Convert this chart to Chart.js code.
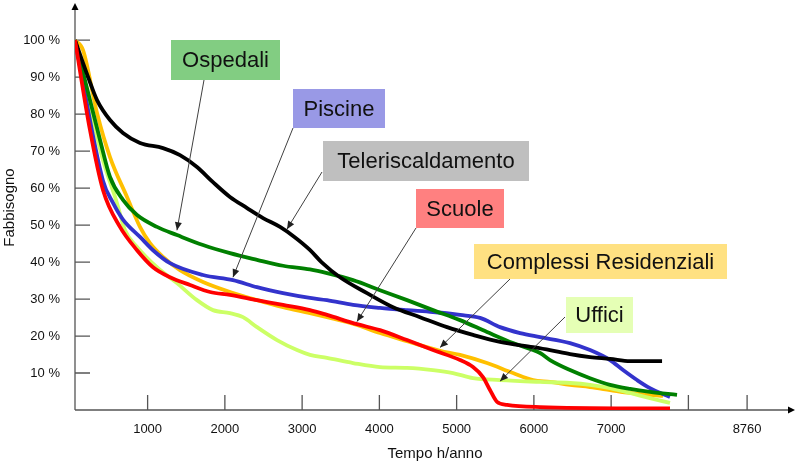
<!DOCTYPE html>
<html>
<head>
<meta charset="utf-8">
<script src="https://cdn.jsdelivr.net/npm/chart.js@4/dist/chart.umd.min.js"></script>
<style>
  body { margin: 0; background: #fff; }
</style>
</head>
<body>
<canvas id="chart" width="800" height="463"></canvas>
<script>
// hours per year on x, share of peak demand (%) on y
var teleriscHours = [60, 230, 345, 513, 681, 901, 1199, 1419, 1639, 1846, 2066, 2287, 2494, 2714, 2900, 3100, 3250, 3490, 3840, 4177, 4526, 4876, 5212, 5562, 5989, 6209, 6468, 6727, 6986, 7245, 7659];
var teleriscValues = [100, 90, 83.8, 78.4, 74.9, 72.2, 70.8, 68.9, 65.7, 61.6, 57.6, 54.6, 51.9, 49.5, 46.8, 43.3, 40.0, 35.9, 31.6, 27.8, 25.1, 22.4, 20.3, 18.4, 17.0, 16.2, 15.1, 14.3, 13.8, 13.2, 13.2];

var ospedaliHours = [60, 384, 513, 681, 863, 1121, 1380, 1717, 2066, 2416, 2753, 3102, 3322, 3659, 4008, 4358, 4694, 5044, 5393, 5730, 6080, 6209, 6468, 6727, 6986, 7245, 7503, 7853];
var ospedaliValues = [100, 73.0, 63.0, 56.8, 52.7, 49.5, 47.3, 44.6, 42.4, 40.6, 39.0, 38.0, 37.0, 35.1, 32.4, 29.7, 27.0, 24.3, 21.1, 18.1, 15.4, 13.5, 10.8, 8.6, 6.8, 5.7, 4.9, 4.1];

var piscineHours = [60, 422, 552, 681, 901, 1070, 1290, 1717, 2105, 2416, 2753, 3102, 3322, 3659, 4008, 4358, 4694, 5044, 5303, 5562, 5821, 6080, 6468, 6727, 6986, 7154, 7335, 7503, 7762];
var piscineValues = [100, 62.0, 56.0, 51.5, 46.8, 43.2, 39.7, 36.5, 35.1, 33.2, 31.6, 30.3, 29.7, 28.4, 27.6, 27.0, 26.5, 25.7, 24.9, 22.4, 20.8, 19.7, 18.1, 16.2, 13.5, 10.8, 8.1, 5.9, 3.5];

var scuoleHours = [60, 254, 422, 642, 863, 1070, 1290, 1549, 1808, 2066, 2416, 2753, 3102, 3322, 3710, 4008, 4358, 4694, 5044, 5212, 5341, 5432, 5523, 5652, 6080, 7762];
var scuoleValues = [100, 75.7, 59.5, 49.5, 43.2, 38.6, 35.9, 33.8, 31.9, 31.1, 29.7, 28.4, 27.0, 25.7, 23.2, 21.6, 18.9, 16.2, 13.5, 11.6, 8.9, 5.4, 2.2, 1.4, 0.8, 0.4];

var residenzialiHours = [60, 164, 345, 513, 733, 901, 1031, 1199, 1419, 1717, 2066, 2416, 2753, 3102, 3322, 3710, 4008, 4358, 4785, 5044, 5393, 5730, 5989, 6209, 6468, 6727, 6986, 7245, 7672];
var residenzialiValues = [100, 97.3, 80.3, 68.4, 57.6, 49.5, 45.1, 41.4, 37.8, 34.6, 31.9, 29.7, 27.8, 26.2, 25.1, 23.0, 20.8, 18.6, 16.0, 14.9, 12.7, 10.0, 8.1, 7.6, 6.8, 6.2, 5.4, 4.6, 3.8];

var ufficiHours = [60, 254, 422, 604, 707, 863, 1121, 1380, 1639, 1846, 2066, 2235, 2416, 2675, 2934, 3102, 3322, 3659, 4008, 4358, 4694, 4953, 5212, 5562, 6080, 6468, 6727, 6986, 7245, 7503, 7762];
var ufficiValues = [100, 81.9, 67.6, 55.9, 48.6, 44.1, 38.6, 34.3, 29.7, 27.0, 26.2, 25.1, 22.4, 18.9, 16.2, 14.9, 14.1, 12.7, 11.6, 11.4, 10.8, 10.0, 8.6, 8.1, 7.6, 7.3, 6.8, 5.9, 4.6, 3.2, 1.9];

var xTicks = [1000, 2000, 3000, 4000, 5000, 6000, 7000, 8000, 8760];
var xTickLabels = ['1000', '2000', '3000', '4000', '5000', '6000', '7000', '', '8760'];
var yTicks = [10, 20, 30, 40, 50, 60, 70, 80, 90, 100];
var yTickLabels = ['10 %', '20 %', '30 %', '40 %', '50 %', '60 %', '70 %', '80 %', '90 %', '100 %'];

// label boxes: box in pixels, leader start in pixels, arrow tip in data units
var callouts = [
  { text: 'Ospedali', fill: '#82CD82', box: [171, 40, 109, 40], from: [204, 80], to: [1380, 48.6] },
  { text: 'Piscine', fill: '#9999E6', box: [293, 89, 92, 39], from: [293, 128], to: [2105, 35.9] },
  { text: 'Teleriscaldamento', fill: '#BFBFBF', box: [323, 141, 206, 40], from: [322, 172], to: [2804, 48.9] },
  { text: 'Scuole', fill: '#FF8080', box: [416, 189, 88, 39], from: [416, 228], to: [3710, 23.9] },
  { text: 'Complessi Residenziali', fill: '#FFE182', box: [474, 244, 253, 35], from: [510, 279], to: [4785, 16.9] },
  { text: 'Uffici', fill: '#E5FFB5', box: [566, 297, 67, 36], from: [565, 317], to: [5562, 7.8] }
];

function pairs(xs, ys) {
  return xs.map(function (x, i) { return { x: x, y: ys[i] }; });
}

function line(label, xs, ys, color) {
  return {
    label: label,
    data: pairs(xs, ys),
    borderColor: color,
    backgroundColor: color,
    borderWidth: 3.8,
    pointRadius: 0,
    fill: false,
    cubicInterpolationMode: 'monotone'
  };
}

function arrowHead(ctx, x1, y1, x2, y2, len, half) {
  var a = Math.atan2(y2 - y1, x2 - x1);
  ctx.beginPath();
  ctx.moveTo(x2, y2);
  ctx.lineTo(x2 - len * Math.cos(a) + half * Math.sin(a), y2 - len * Math.sin(a) - half * Math.cos(a));
  ctx.lineTo(x2 - len * Math.cos(a) - half * Math.sin(a), y2 - len * Math.sin(a) + half * Math.cos(a));
  ctx.closePath();
  ctx.fill();
}

var decorations = {
  id: 'decorations',
  beforeDatasetsDraw: function (chart) {
    var ctx = chart.ctx, a = chart.chartArea;
    var xs = chart.scales.x, ys = chart.scales.y;
    ctx.save();
    ctx.strokeStyle = '#555';
    ctx.lineWidth = 1.3;
    ctx.beginPath();
    ctx.moveTo(a.left, a.bottom);
    ctx.lineTo(a.left, a.top + 2);
    ctx.moveTo(a.left, a.bottom);
    ctx.lineTo(a.right - 2, a.bottom);
    xs.ticks.forEach(function (t) {
      var px = xs.getPixelForValue(t.value);
      ctx.moveTo(px, a.bottom);
      ctx.lineTo(px, a.bottom - 15);
    });
    ys.ticks.forEach(function (t) {
      var py = ys.getPixelForValue(t.value);
      ctx.moveTo(a.left, py);
      ctx.lineTo(a.left + 15, py);
    });
    ctx.stroke();
    ctx.fillStyle = '#000';
    arrowHead(ctx, a.left, a.bottom, a.left, a.top - 2, 7, 3.5);
    arrowHead(ctx, a.left, a.bottom, a.right, a.bottom, 7, 3.5);
    ctx.restore();
  },
  afterDatasetsDraw: function (chart) {
    var ctx = chart.ctx;
    var xs = chart.scales.x, ys = chart.scales.y;
    ctx.save();
    callouts.forEach(function (c) {
      var tx = xs.getPixelForValue(c.to[0]);
      var ty = ys.getPixelForValue(c.to[1]);
      ctx.strokeStyle = '#404040';
      ctx.fillStyle = '#202020';
      ctx.lineWidth = 1;
      ctx.beginPath();
      ctx.moveTo(c.from[0], c.from[1]);
      ctx.lineTo(tx, ty);
      ctx.stroke();
      arrowHead(ctx, c.from[0], c.from[1], tx, ty, 8, 3.5);

      ctx.fillStyle = c.fill;
      ctx.fillRect(c.box[0], c.box[1], c.box[2], c.box[3]);
      ctx.fillStyle = '#111';
      ctx.font = "22px 'Liberation Sans', Arial, sans-serif";
      ctx.textAlign = 'center';
      ctx.textBaseline = 'middle';
      ctx.fillText(c.text, c.box[0] + c.box[2] / 2, c.box[1] + c.box[3] / 2 + 1);
    });
    ctx.restore();
  }
};

Chart.defaults.font.family = "'Liberation Sans', Arial, sans-serif";
Chart.defaults.color = '#111';

var ctx = document.getElementById('chart');
var chart = new Chart(ctx, {
  type: 'line',
  data: {
    datasets: [
      line('Scuole', scuoleHours, scuoleValues, '#FF0000'),
      line('Teleriscaldamento', teleriscHours, teleriscValues, '#000000'),
      line('Ospedali', ospedaliHours, ospedaliValues, '#008000'),
      line('Piscine', piscineHours, piscineValues, '#3333CC'),
      line('Uffici', ufficiHours, ufficiValues, '#CCFF66'),
      line('Complessi Residenziali', residenzialiHours, residenzialiValues, '#FFC000')
    ]
  },
  options: {
    responsive: false,
    animation: false,
    layout: { padding: { top: 5, right: 5, left: 0, bottom: 0 } },
    plugins: {
      legend: { display: false },
      tooltip: { enabled: false }
    },
    scales: {
      x: {
        type: 'linear',
        min: 60,
        max: 9380,
        grid: { display: false, drawTicks: false },
        border: { display: false },
        afterBuildTicks: function (s) { s.ticks = xTicks.map(function (v) { return { value: v }; }); },
        afterFit: function (s) { s.height = 53; s.paddingLeft = 0; s.paddingRight = 0; },
        ticks: {
          padding: 12,
          autoSkip: false,
          maxRotation: 0,
          font: { size: 13 },
          callback: function (v, i) { return xTickLabels[i]; }
        },
        title: { display: true, text: 'Tempo h/anno', font: { size: 15 }, padding: { top: 0, bottom: 0 } }
      },
      y: {
        min: 0,
        max: 109.5,
        grid: { display: false, drawTicks: false },
        border: { display: false },
        afterBuildTicks: function (s) { s.ticks = yTicks.map(function (v) { return { value: v }; }); },
        afterFit: function (s) { s.width = 75; s.paddingTop = 0; s.paddingBottom = 0; },
        ticks: {
          padding: 15,
          autoSkip: false,
          font: { size: 13 },
          callback: function (v, i) { return yTickLabels[i]; }
        },
        title: { display: true, text: 'Fabbisogno', font: { size: 15 }, padding: { top: 1, bottom: 0 } }
      }
    }
  },
  plugins: [decorations]
});
</script>
</body>
</html>
